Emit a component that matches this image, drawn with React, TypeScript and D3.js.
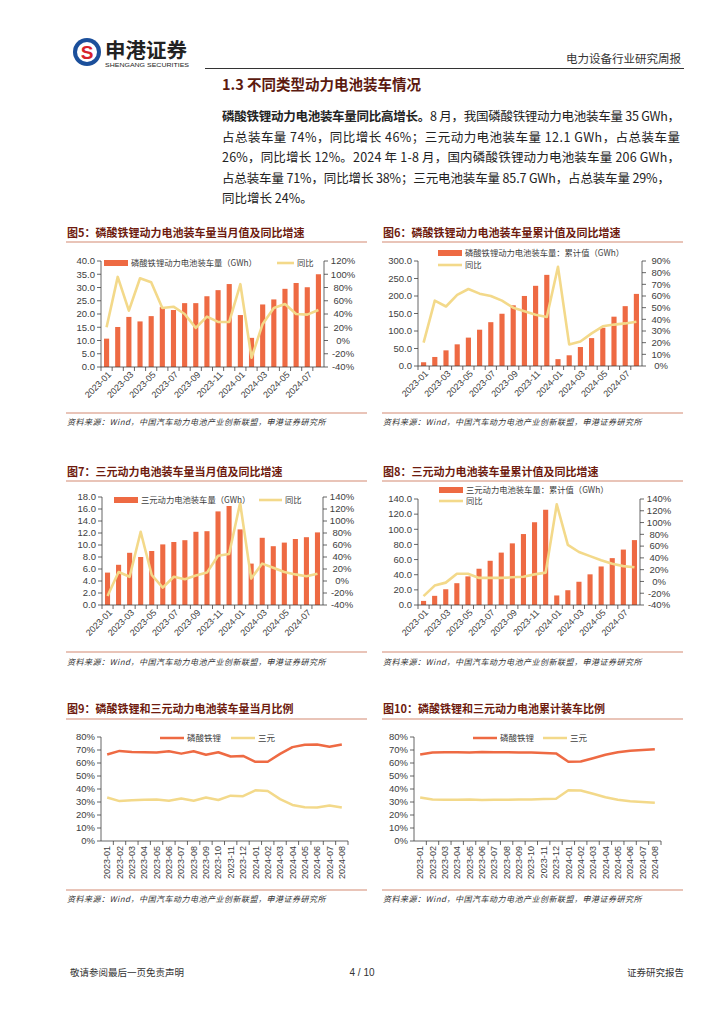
import * as d3 from "d3";

// 月份
const months = [
  "2023-01", "2023-02", "2023-03", "2023-04", "2023-05", "2023-06", "2023-07",
  "2023-08", "2023-09", "2023-10", "2023-11", "2023-12", "2024-01", "2024-02",
  "2024-03", "2024-04", "2024-05", "2024-06", "2024-07", "2024-08",
];

// 图5 磷酸铁锂当月值 (GWh) 及同比 (%)
const lfpMonthly = [10.7, 15.1, 18.9, 17.2, 19.2, 22.6, 21.5, 24.1, 24.1, 26.7, 29.0, 31.3, 19.6, 11.0, 23.6, 25.5, 29.5, 31.7, 30.1, 35.0];
const lfpMonthlyYoy = [20, 96, 45, 94, 88, 49, 51, 40, 19, 36, 28, 28, 85, -26, 25, 49, 55, 40, 39, 46];

// 图6 磷酸铁锂累计值
const lfpCum = [10.7, 25.8, 44.7, 61.9, 81.1, 103.7, 125.2, 149.3, 173.4, 200.1, 229.1, 260.4, 19.6, 30.6, 54.2, 79.7, 109.2, 140.9, 171.0, 206.0];
const lfpCumYoy = [20, 56, 51, 61, 66, 62, 60, 56, 50, 47, 44, 42, 85, 18.5, 21, 28, 34, 35.5, 36.5, 38];

// 图7 三元当月值
const ncmMonthly = [5.4, 6.7, 8.7, 8.0, 9.0, 10.1, 10.5, 10.8, 12.2, 12.3, 15.6, 16.5, 12.6, 6.9, 11.2, 9.8, 10.4, 11.0, 11.3, 12.1];
const ncmMonthlyYoy = [-25, 15, 7, 82, 10, -11, 7, 3, 9, 14, 42, 45, 130, 4, 29, 22, 15, 11, 8, 12];

// 图8 三元累计值
const ncmCum = [5.4, 12.1, 20.8, 28.8, 37.8, 47.9, 58.4, 69.2, 81.4, 93.7, 109.3, 125.8, 12.6, 19.5, 30.7, 40.5, 50.9, 61.9, 73.2, 85.7];
const ncmCumYoy = [-25, -7, -2, 13, 13, 6, 6, 6, 7, 8, 12, 15, 131, 62, 50, 43, 36, 30, 26, 24];

// 图9 当月占比 (%)
const lfpShareMonthly = [66.5, 69.3, 68.5, 68.2, 68.0, 69.0, 67.2, 69.0, 66.4, 68.3, 65.0, 65.4, 60.9, 61.0, 67.0, 72.2, 74.0, 74.2, 72.5, 74.3];
const ncmShareMonthly = [33.5, 30.7, 31.3, 31.7, 31.9, 30.9, 32.7, 30.9, 33.5, 31.5, 34.9, 34.5, 39.0, 38.5, 32.2, 27.7, 26.0, 25.8, 27.3, 25.7];

// 图10 累计占比 (%)
const lfpShareCum = [66.5, 68.1, 68.2, 68.2, 68.1, 68.4, 68.2, 68.3, 68.0, 68.0, 67.7, 67.4, 60.9, 61.1, 63.7, 66.3, 68.2, 69.5, 70.0, 70.6];
const ncmShareCum = [33.5, 31.9, 31.8, 31.8, 31.9, 31.6, 31.8, 31.7, 32.0, 31.9, 32.3, 32.5, 39.0, 38.9, 36.3, 33.6, 31.8, 30.5, 30.0, 29.4];

const BAR = "#EE6A43";
const LINE = "#F3D98A";
const TITLE = "#6E1B0E";
const RULE = "#D48A73";
const AXIS = "#404040";
const TEXT = "#404040";
const CJK = "'Noto Sans CJK SC', 'Noto Sans', sans-serif";
const LAT = "'Liberation Sans', Arial, sans-serif";
const SOURCE = "资料来源：Wind，中国汽车动力电池产业创新联盟，申港证券研究所";

interface FrameProps {
  x: number;
  titleY: number;
  ruleY: number;
  srcRuleY: number;
  srcY: number;
  title: string;
}

const Frame = ({ x, titleY, ruleY, srcRuleY, srcY, title }: FrameProps) => (
  <g>
    <text x={x} y={titleY} fontFamily={CJK} fontWeight={700} fontSize={11} fill={TITLE}>{title}</text>
    <line x1={x - 1} x2={x + 300} y1={ruleY} y2={ruleY} stroke={RULE} strokeWidth={1.2} />
    <line x1={x - 1} x2={x + 300} y1={srcRuleY} y2={srcRuleY} stroke={RULE} strokeWidth={1.2} />
    <text x={x} y={srcY} fontFamily={CJK} fontStyle="italic" fontSize={8} letterSpacing={0.5} fill="#333">{SOURCE}</text>
  </g>
);

interface Legend {
  barX: number;
  barY: number;
  lineX: number;
  lineY: number;
  lineW: number;
}

interface ComboProps {
  x0: number;
  x1: number;
  y0: number;
  y1: number;
  bars: number[];
  line: number[];
  leftMax: number;
  leftStep: number;
  rightMin: number;
  rightMax: number;
  rightStep: number;
  barLabel: string;
  legend: Legend;
}

const ComboChart = ({ x0, x1, y0, y1, bars, line, leftMax, leftStep, rightMin, rightMax, rightStep, barLabel, legend }: ComboProps) => {
  const x = d3.scaleBand<string>().domain(months).range([x0, x1]);
  const yL = d3.scaleLinear().domain([0, leftMax]).range([y1, y0]);
  const yR = d3.scaleLinear().domain([rightMin, rightMax]).range([y1, y0]);
  const bw = x.bandwidth() * 0.46;
  const cx = (i: number) => (x(months[i]) as number) + x.bandwidth() / 2;
  const path = d3.line<number>().x((_, i) => cx(i)).y(d => yR(d))(line) || "";
  const leftTicks = d3.range(0, leftMax + 1e-9, leftStep);
  const rightTicks = d3.range(rightMin, rightMax + 1e-9, rightStep);
  const fmt = d3.format(".1f");
  return (
    <g>
      {bars.map((v, i) => (
        <rect key={i} x={cx(i) - bw / 2} y={yL(v)} width={bw} height={y1 - yL(v)} fill={BAR} />
      ))}
      <path d={path} fill="none" stroke={LINE} strokeWidth={2.6} strokeLinejoin="round" />
      {/* axes */}
      <line x1={x0} x2={x0} y1={y0} y2={y1} stroke={AXIS} strokeWidth={0.8} />
      <line x1={x1} x2={x1} y1={y0} y2={y1} stroke={AXIS} strokeWidth={0.8} />
      <line x1={x0} x2={x1} y1={y1} y2={y1} stroke={AXIS} strokeWidth={0.8} />
      {leftTicks.map(t => (
        <g key={"l" + t}>
          <line x1={x0 - 4} x2={x0} y1={yL(t)} y2={yL(t)} stroke={AXIS} strokeWidth={0.8} />
          <text x={x0 - 6} y={yL(t)} dy="0.35em" textAnchor="end" fontFamily={LAT} fontSize={9.5} fill={TEXT}>{fmt(t)}</text>
        </g>
      ))}
      {rightTicks.map(t => (
        <g key={"r" + t}>
          <line x1={x1} x2={x1 + 4} y1={yR(t)} y2={yR(t)} stroke={AXIS} strokeWidth={0.8} />
          <text x={x1 + 19} y={yR(t)} dy="0.35em" textAnchor="middle" fontFamily={LAT} fontSize={9.5} fill={TEXT}>{t}%</text>
        </g>
      ))}
      {months.map(m => (
        <line key={"t" + m} x1={x(m)} x2={x(m)} y1={y1} y2={y1 + 4} stroke={AXIS} strokeWidth={0.8} />
      ))}
      {months.map((m, i) =>
        i % 2 === 0 ? (
          <text key={"x" + m} transform={`translate(${cx(i) + 3},${y1 + 6}) rotate(-45)`} dy="0.35em" textAnchor="end" fontFamily={LAT} fontSize={9} fill={TEXT}>{m}</text>
        ) : null
      )}
      {/* legend */}
      <rect x={legend.barX} y={legend.barY - 3} width={24} height={6} fill={BAR} />
      <text x={legend.barX + 27} y={legend.barY} dy="0.35em" fontFamily={CJK} fontSize={8.3} fill={TEXT}>{barLabel}</text>
      <line x1={legend.lineX} x2={legend.lineX + legend.lineW} y1={legend.lineY} y2={legend.lineY} stroke={LINE} strokeWidth={2.6} />
      <text x={legend.lineX + legend.lineW + 3} y={legend.lineY} dy="0.35em" fontFamily={CJK} fontSize={8.3} fill={TEXT}>同比</text>
    </g>
  );
};

interface RatioProps {
  x0: number;
  x1: number;
  y0: number;
  y1: number;
  a: number[];
  b: number[];
  legendA: number;
  legendB: number;
  legendY: number;
}

const RatioChart = ({ x0, x1, y0, y1, a, b, legendA, legendB, legendY }: RatioProps) => {
  const x = d3.scaleBand<string>().domain(months).range([x0, x1]);
  const y = d3.scaleLinear().domain([0, 80]).range([y1, y0]);
  const cx = (i: number) => (x(months[i]) as number) + x.bandwidth() / 2;
  const gen = d3.line<number>().x((_, i) => cx(i)).y(d => y(d));
  const ticks = d3.range(0, 80 + 1e-9, 10);
  return (
    <g>
      <path d={gen(b) || ""} fill="none" stroke={LINE} strokeWidth={2.5} strokeLinejoin="round" />
      <path d={gen(a) || ""} fill="none" stroke={BAR} strokeWidth={2.5} strokeLinejoin="round" />
      <line x1={x0} x2={x0} y1={y0} y2={y1} stroke={AXIS} strokeWidth={0.8} />
      <line x1={x0} x2={x1} y1={y1} y2={y1} stroke={AXIS} strokeWidth={0.8} />
      {ticks.map(t => (
        <g key={"l" + t}>
          <line x1={x0 - 4} x2={x0} y1={y(t)} y2={y(t)} stroke={AXIS} strokeWidth={0.8} />
          <text x={x0 - 6} y={y(t)} dy="0.35em" textAnchor="end" fontFamily={LAT} fontSize={9.5} fill={TEXT}>{t}%</text>
        </g>
      ))}
      {months.map(m => (
        <line key={"t" + m} x1={(x(m) as number) + x.bandwidth()} x2={(x(m) as number) + x.bandwidth()} y1={y1} y2={y1 + 4} stroke={AXIS} strokeWidth={0.8} />
      ))}
      {months.map((m, i) => (
        <text key={"x" + m} transform={`translate(${cx(i)},${y1 + 5}) rotate(-90)`} dy="0.35em" textAnchor="end" fontFamily={LAT} fontSize={9} fill={TEXT}>{m}</text>
      ))}
      <line x1={legendA} x2={legendA + 24} y1={legendY} y2={legendY} stroke={BAR} strokeWidth={2.5} />
      <text x={legendA + 27} y={legendY} dy="0.35em" fontFamily={CJK} fontSize={8.5} fill={TEXT}>磷酸铁锂</text>
      <line x1={legendB} x2={legendB + 24} y1={legendY} y2={legendY} stroke={LINE} strokeWidth={2.5} />
      <text x={legendB + 27} y={legendY} dy="0.35em" fontFamily={CJK} fontSize={8.5} fill={TEXT}>三元</text>
    </g>
  );
};

const Header = () => (
  <g>
    <circle cx={87} cy={52} r={14} fill="#1B4F9B" />
    <circle cx={87} cy={52} r={10} fill="#fff" />
    <text x={87} y={52} dy="0.36em" textAnchor="middle" fontFamily={LAT} fontWeight={700} fontSize={19} fill="#D7222B">S</text>
    <text x={105} y={58} fontFamily={CJK} fontWeight={700} fontSize={20.5} fill="#222">申港证券</text>
    <text x={105} y={67} fontFamily={LAT} fontSize={6} textLength={84} lengthAdjust="spacingAndGlyphs" fill="#222">SHENGANG SECURITIES</text>
    <text x={681} y={63} textAnchor="end" fontFamily={CJK} fontSize={11.5} fill="#333">电力设备行业研究周报</text>
    <line x1={205} x2={684} y1={68.5} y2={68.5} stroke="#333" strokeWidth={1} />
    <text x={222} y={90} fontFamily={CJK} fontWeight={700} fontSize={14.5} fill="#5C1A0F">1.3 不同类型动力电池装车情况</text>
  </g>
);

const Paragraph = () => {
  const p = { fontFamily: CJK, fontSize: 12.5, fill: "#222" };
  return (
    <g>
      <text x={222} y={121} textLength={458} lengthAdjust="spacing" {...p}>
        <tspan fontWeight={700}>磷酸铁锂动力电池装车量同比高增长。</tspan>
        <tspan>8 月，我国磷酸铁锂动力电池装车量 35 GWh，</tspan>
      </text>
      <text x={222} y={141.5} textLength={458} lengthAdjust="spacing" {...p}>占总装车量 74%，同比增长 46%；三元动力电池装车量 12.1 GWh，占总装车量</text>
      <text x={222} y={162} textLength={458} lengthAdjust="spacing" {...p}>26%，同比增长 12%。2024 年 1-8 月，国内磷酸铁锂动力电池装车量 206 GWh，</text>
      <text x={222} y={182.5} textLength={448} lengthAdjust="spacing" {...p}>占总装车量 71%，同比增长 38%；三元电池装车量 85.7 GWh，占总装车量 29%，</text>
      <text x={222} y={203} {...p}>同比增长 24%。</text>
    </g>
  );
};

const Footer = () => (
  <g>
    <text x={70} y={976} fontFamily={CJK} fontSize={9.5} fill="#333">敬请参阅最后一页免责声明</text>
    <text x={362} y={976} textAnchor="middle" fontFamily={LAT} fontSize={10} fill="#333">4 / 10</text>
    <text x={684} y={976} textAnchor="end" fontFamily={CJK} fontSize={9.5} fill="#333">证券研究报告</text>
  </g>
);

const App = () => (
  <svg width={724} height={1024} style={{ position: "absolute", left: 0, top: 0 }}>
    <rect width={724} height={1024} fill="#fff" />
    <Header />
    <Paragraph />

    <Frame x={67} titleY={237} ruleY={242} srcRuleY={413} srcY={425} title="图5：磷酸铁锂动力电池装车量当月值及同比增速" />
    <ComboChart x0={101} x1={324} y0={261} y1={367} bars={lfpMonthly} line={lfpMonthlyYoy}
      leftMax={40} leftStep={5} rightMin={-40} rightMax={120} rightStep={20}
      barLabel="磷酸铁锂动力电池装车量（GWh）"
      legend={{ barX: 104, barY: 263, lineX: 277, lineY: 263, lineW: 17 }} />

    <Frame x={383} titleY={237} ruleY={242} srcRuleY={413} srcY={425} title="图6：磷酸铁锂动力电池装车量累计值及同比增速" />
    <ComboChart x0={418} x1={642} y0={261} y1={366} bars={lfpCum} line={lfpCumYoy}
      leftMax={300} leftStep={50} rightMin={0} rightMax={90} rightStep={10}
      barLabel="磷酸铁锂动力电池装车量：累计值（GWh）"
      legend={{ barX: 438, barY: 253, lineX: 438, lineY: 265, lineW: 24 }} />

    <Frame x={67} titleY={476} ruleY={481} srcRuleY={652} srcY={665} title="图7：三元动力电池装车量当月值及同比增速" />
    <ComboChart x0={102} x1={323} y0={497} y1={605} bars={ncmMonthly} line={ncmMonthlyYoy}
      leftMax={18} leftStep={2} rightMin={-40} rightMax={140} rightStep={20}
      barLabel="三元动力电池装车量（GWh）"
      legend={{ barX: 114, barY: 500, lineX: 259, lineY: 500, lineW: 23 }} />

    <Frame x={383} titleY={476} ruleY={481} srcRuleY={652} srcY={665} title="图8：三元动力电池装车量累计值及同比增速" />
    <ComboChart x0={418} x1={640} y0={499} y1={605} bars={ncmCum} line={ncmCumYoy}
      leftMax={140} leftStep={20} rightMin={-40} rightMax={140} rightStep={20}
      barLabel="三元动力电池装车量：累计值（GWh）"
      legend={{ barX: 439, barY: 490, lineX: 439, lineY: 501, lineW: 24 }} />

    <Frame x={67} titleY={713} ruleY={719} srcRuleY={890} srcY={902} title="图9：磷酸铁锂和三元动力电池装车量当月比例" />
    <RatioChart x0={101} x1={348} y0={737} y1={841} a={lfpShareMonthly} b={ncmShareMonthly}
      legendA={160} legendB={231} legendY={738} />

    <Frame x={383} titleY={713} ruleY={719} srcRuleY={890} srcY={902} title="图10：磷酸铁锂和三元动力电池累计装车比例" />
    <RatioChart x0={414} x1={661} y0={737} y1={841} a={lfpShareCum} b={ncmShareCum}
      legendA={473} legendB={543} legendY={738} />

    <Footer />
  </svg>
);

export default App;
